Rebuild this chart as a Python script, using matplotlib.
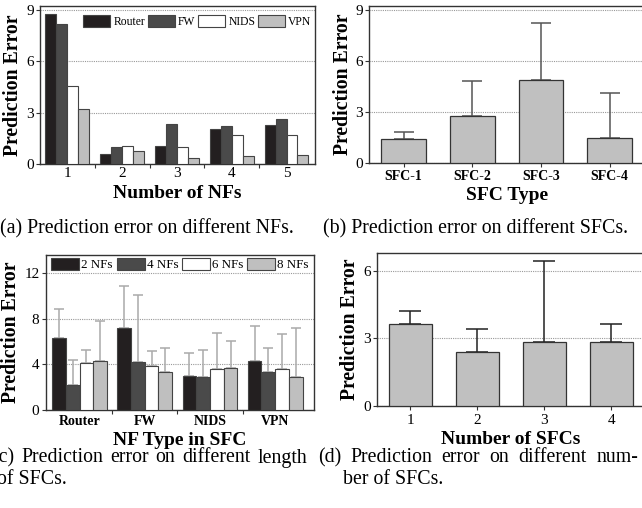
import matplotlib
matplotlib.use("Agg")
import matplotlib.pyplot as plt
import numpy as np

plt.rcParams['font.family'] = ['Liberation Serif', 'DejaVu Serif']

W, H = 642, 508

# ---------------- data ----------------
# (a)
a_groups = ['1', '2', '3', '4', '5']
a_series = ['Router', 'FW', 'NIDS', 'VPN']
a_router = [8.77, 0.56, 1.05, 2.05, 2.28]
a_fw = [8.18, 0.99, 2.32, 2.20, 2.65]
a_nids = [4.56, 1.07, 0.99, 1.68, 1.69]
a_vpn = [3.19, 0.76, 0.37, 0.45, 0.53]

# (b)
b_cats = ['SFC-1', 'SFC-2', 'SFC-3', 'SFC-4']
b_vals = [1.42, 2.78, 4.90, 1.46]
b_tops = [1.83, 4.84, 8.27, 4.12]

# (c)
c_cats = ['Router', 'FW', 'NIDS', 'VPN']
c_series = ['2 NFs', '4 NFs', '6 NFs', '8 NFs']
c_2 = [6.28, 7.15, 3.01, 4.26]
c_2_top = [8.88, 10.89, 5.02, 7.33]
c_4 = [2.16, 4.20, 2.89, 3.36]
c_4_top = [4.35, 10.04, 5.28, 5.46]
c_6 = [4.12, 3.82, 3.59, 3.56]
c_6_top = [5.23, 5.20, 6.74, 6.69]
c_8 = [4.32, 3.30, 3.71, 2.92]
c_8_top = [7.80, 5.43, 6.07, 7.15]

# (d)
d_cats = ['1', '2', '3', '4']
d_vals = [3.63, 2.39, 2.83, 2.83]
d_tops = [4.24, 3.41, 6.44, 3.64]

captions = {
    'a': "(a) Prediction error on different NFs.",
    'b': "(b) Prediction error on different SFCs.",
    'c1': "(c) Prediction error on different length",
    'c2': "of SFCs.",
    'd1': "(d) Prediction error on different num-",
    'd2': "ber of SFCs.",
}

colors4 = ['#231f20', '#4a4a4a', '#ffffff', '#bfbfbf']
edge = '#333333'
gray_bar = '#c0c0c0'

fig = plt.figure(figsize=(W / 100, H / 100), dpi=100)


def px_axes(l, t, r, b):
    return fig.add_axes([l / W, 1 - b / H, (r - l) / W, (b - t) / H])


def style(ax):
    for s in ax.spines.values():
        s.set_color('#333333')
        s.set_linewidth(1.0)
    ax.yaxis.grid(True, linestyle=(0, (1, 1)), color='#999999', linewidth=0.8)
    ax.set_axisbelow(True)
    ax.tick_params(axis='y', direction='out', length=3, width=0.8,
                   labelsize=11, pad=1.5, color='#333333')


ylab_kw = dict(fontsize=14.2, fontweight='bold')
xlab_kw = dict(fontsize=14, fontweight='bold')

# ---------------- (a) ----------------
ax = px_axes(40, 6, 315, 164)
style(ax)
xa = np.arange(1, len(a_groups) + 1)
wa = 0.2
for i, (vals, name) in enumerate(zip([a_router, a_fw, a_nids, a_vpn], a_series)):
    ax.bar(xa + (i - 1.5) * wa, vals, wa, color=colors4[i], edgecolor='#444444',
           linewidth=0.8, label=name, zorder=3)
ax.set_xlim(0.5, 5.52)
ax.set_ylim(0, 9.24)
ax.set_yticks([0, 3, 6, 9])
ax.set_xticks(xa)
ax.set_xticklabels(a_groups)
ax.set_xticks(xa[:-1] + 0.5, minor=True)
ax.tick_params(axis='x', which='major', length=0, labelsize=11, pad=2)
ax.tick_params(axis='x', which='minor', length=3, width=0.8, direction='out', color='#333333')
ax.set_ylabel('Prediction Error', labelpad=2, **ylab_kw)
ax.set_xlabel('Number of NFs', labelpad=4, **xlab_kw)
ax.legend(loc='upper right', bbox_to_anchor=(1.0, 0.965), ncol=4, frameon=False,
          fontsize=8.4, handlelength=2.3, handleheight=1.2, handletextpad=0.29,
          columnspacing=0.23, borderpad=0.1, borderaxespad=0.2)

# ---------------- (b) ----------------
ax = px_axes(369.3, 6, 644, 163.3)
style(ax)
xb = np.arange(len(b_cats))
ax.bar(xb, b_vals, 0.65, color=gray_bar, edgecolor=edge, linewidth=0.9, zorder=3)
ax.errorbar(xb, b_vals, yerr=[np.zeros(len(b_vals)), np.array(b_tops) - np.array(b_vals)],
            fmt='none', ecolor='#555555', elinewidth=1.1, capsize=7.5, capthick=1.1, zorder=2)
ax.set_xlim(-0.5, 3.5)
ax.set_ylim(0, 9.24)
ax.set_yticks([0, 3, 6, 9])
ax.set_xticks(xb)
ax.set_xticklabels(b_cats, fontweight='bold')
ax.tick_params(axis='x', length=3, width=0.8, labelsize=10, pad=2, color='#333333')
ax.set_ylabel('Prediction Error', labelpad=2, **ylab_kw)
ax.set_xlabel('SFC Type', labelpad=3, **xlab_kw)

# ---------------- (c) ----------------
ax = px_axes(45.7, 255, 314.3, 410)
style(ax)
xc = np.arange(len(c_cats))
wc = 0.21
for i, (vals, tops, name) in enumerate(zip([c_2, c_4, c_6, c_8],
                                           [c_2_top, c_4_top, c_6_top, c_8_top],
                                           c_series)):
    pos = xc + (i - 1.5) * wc
    ax.bar(pos, vals, wc, color=colors4[i], edgecolor='#444444', linewidth=0.8,
           label=name, zorder=3)
    ax.errorbar(pos, vals, yerr=[np.zeros(len(vals)), np.array(tops) - np.array(vals)],
                fmt='none', ecolor='#aaaaaa', elinewidth=1.1, capsize=3.6, capthick=1.1,
                zorder=2)
ax.set_xlim(-0.52, 3.6)
ax.set_ylim(0, 13.58)
ax.set_yticks([0, 4, 8, 12])
ax.set_xticks(xc)
ax.set_xticklabels(c_cats, fontweight='bold')
ax.set_xticks(xc[:-1] + 0.5, minor=True)
ax.tick_params(axis='x', which='major', length=0, labelsize=10, pad=3.5)
ax.tick_params(axis='x', which='minor', length=3, width=0.8, direction='out', color='#333333')
ax.set_ylabel('Prediction Error', labelpad=2, **ylab_kw)
ax.set_xlabel('NF Type in SFC', labelpad=3, **xlab_kw)
ax.legend(loc='upper center', bbox_to_anchor=(0.5, 1.0), ncol=4, frameon=False,
          fontsize=9.4, handlelength=2.14, handleheight=1.07, handletextpad=0.15,
          columnspacing=0.3, borderpad=0.1, borderaxespad=0.1)

# ---------------- (d) ----------------
ax = px_axes(377, 252.7, 644.6, 406)
style(ax)
xd = np.arange(len(d_cats))
ax.bar(xd, d_vals, 0.64, color=gray_bar, edgecolor=edge, linewidth=0.9, zorder=3)
ax.errorbar(xd, d_vals, yerr=[np.zeros(len(d_vals)), np.array(d_tops) - np.array(d_vals)],
            fmt='none', ecolor='#222222', elinewidth=1.1, capsize=8, capthick=1.1, zorder=2)
ax.set_xlim(-0.5, 3.5)
ax.set_ylim(0, 6.81)
ax.set_yticks([0, 3, 6])
ax.set_xticks(xd)
ax.set_xticklabels(d_cats)
ax.tick_params(axis='x', length=3, width=0.8, labelsize=11, pad=3, color='#333333')
ax.set_ylabel('Prediction Error', labelpad=2, **ylab_kw)
ax.set_xlabel('Number of SFCs', labelpad=3, **xlab_kw)

# ---------------- captions ----------------
cap_kw = dict(fontsize=14.3, va='center', ha='left')
renderer = fig.canvas.get_renderer()


def justified(text, x0, x1, y):
    words = text.split(' ')
    objs = [fig.text(0, 1 - y / H, w, **cap_kw) for w in words]
    widths = [o.get_window_extent(renderer).width for o in objs]
    gap = (x1 - x0 - sum(widths)) / (len(words) - 1)
    x = x0
    for o, wdt in zip(objs, widths):
        o.set_x(x / W)
        x += wdt + gap


fig.text(0 / W, 1 - 229 / H, captions['a'], **cap_kw)
fig.text(323 / W, 1 - 229 / H, captions['b'], **cap_kw)
justified(captions['c1'], -8, 307, 458)
fig.text(-3 / W, 1 - 480 / H, captions['c2'], **cap_kw)
justified(captions['d1'], 318, 638, 458)
fig.text(343 / W, 1 - 480 / H, captions['d2'], **cap_kw)

fig.savefig('out.png', dpi=100)
